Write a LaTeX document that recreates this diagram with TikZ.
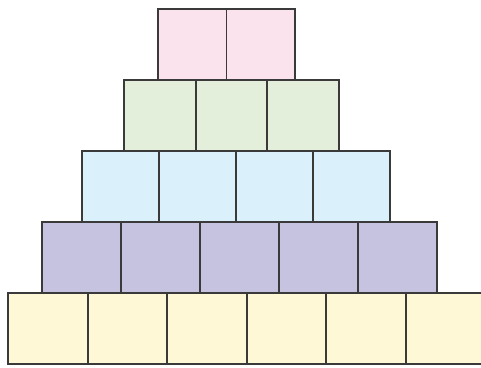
\documentclass[tikz,border=0pt]{standalone}
\usepackage{xcolor}
\usepackage{tikz}
\definecolor{edge}{RGB}{58,58,58}
\definecolor{pinkfill}{RGB}{251,227,238}
\definecolor{greenfill}{RGB}{227,238,219}
\definecolor{bluefill}{RGB}{218,240,251}
\definecolor{purplefill}{RGB}{198,195,224}
\definecolor{yellowfill}{RGB}{254,248,214}

\begin{document}
\begin{tikzpicture}[x=1pt, y=-1pt,
      cell/.style={rectangle, draw=edge, line width=1.9pt, inner sep=0pt, anchor=north west}
    ]
      \useasboundingbox (0,0) rectangle (481,367);
      \clip (0,0) rectangle (481,367);
      % rows: left edge / top edge / square width / count / fill / name
      \foreach \lx/\ty/\w/\n/\col/\nm in {157/8/68.5/2/pinkfill/p,
                                         123/79/71.7/3/greenfill/g,
                                         81/150/77/4/bluefill/b,
                                         41/221/79/5/purplefill/v,
                                         7/292/79.6/6/yellowfill/y}{
        \foreach \i in {1,...,\n}{
          \node[cell, fill=\col, minimum width=\w pt, minimum height=71pt]
            (\nm\i) at ({\lx+(\i-1)*\w},\ty) {};
        }
      }
    \end{tikzpicture}
\end{document}
